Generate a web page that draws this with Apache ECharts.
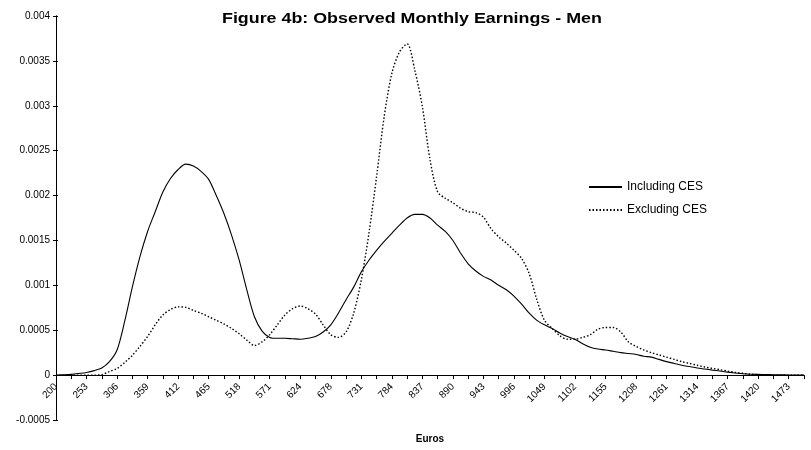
<!DOCTYPE html>
<html>
<head>
	<meta charset="utf-8">
	<script src="https://cdn.jsdelivr.net/npm/echarts@6/dist/echarts.min.js"></script>
	<style>
		html, body { margin: 0; padding: 0; background: #fff; }
		#chart { width: 811px; height: 450px; }
	</style>
</head>
<body>
	<div id="chart"></div>
	<script>
		// x axis: 200..1500 euros, one point every half tick (98 steps)
		var steps = 98;
		var euros = [];
		for (var j = 0; j <= steps; j++) {
			euros.push(200 + j * 1300 / steps);
		}
		var tickLabels = ['200','253','306','359','412','465','518','571','624','678','731','784','837',
			'890','943','996','1049','1102','1155','1208','1261','1314','1367','1420','1473'];

		var includingCES = [
			0, 0.000003, 0.000008, 0.000018, 0.00003, 0.00005, 0.00008, 0.00015, 0.00028, 0.0006,
			0.00098, 0.00132, 0.0016, 0.00182, 0.00204, 0.00219, 0.00229, 0.00235, 0.00233, 0.00227,
			0.00218, 0.002, 0.0018, 0.00156, 0.00128, 0.00095, 0.00065, 0.00049, 0.00042, 0.00041,
			0.00041, 0.000405, 0.0004, 0.00041, 0.00043, 0.00048, 0.00056, 0.00069, 0.00084, 0.00098,
			0.00115, 0.00128, 0.00139, 0.00149, 0.00158, 0.00167, 0.00175, 0.00179, 0.00179, 0.00175,
			0.00167, 0.0016, 0.0015, 0.00136, 0.00124, 0.00116, 0.0011, 0.00106, 0.001, 0.00095,
			0.00088, 0.00079, 0.00069, 0.00061, 0.00056, 0.00052, 0.00047, 0.00043, 0.0004, 0.00035,
			0.00031, 0.00029, 0.00028, 0.000265, 0.00025, 0.00024, 0.00023, 0.00021, 0.0002, 0.000175,
			0.00015, 0.00013, 0.00011, 0.000095, 0.00008, 0.000068, 0.000056, 0.000045, 0.000033, 0.000024,
			0.000015, 0.00001, 0.000008, 0.000006, 0.000004, 0.000003, 0.000002, 0.000001, 0
		];
		var excludingCES = [
			0, 0, 0, 0, 0, 0, 0.000005, 0.00004, 0.000074, 0.00014,
			0.00022, 0.00032, 0.00043, 0.00056, 0.00067, 0.00073, 0.00076, 0.000755, 0.00072, 0.00069,
			0.00065, 0.00061, 0.00057, 0.00052, 0.00046, 0.00039, 0.00033, 0.00037, 0.00045, 0.00056,
			0.00067, 0.00074, 0.00077, 0.00074, 0.00068, 0.00056, 0.00045, 0.00042, 0.00048, 0.00069,
			0.00106, 0.00158, 0.00221, 0.00288, 0.00336, 0.0036, 0.00369, 0.0034, 0.00299, 0.0024,
			0.00204, 0.00197, 0.00192, 0.00186, 0.00182, 0.00181, 0.00176, 0.00163, 0.00154, 0.00147,
			0.00139, 0.0013, 0.00113, 0.00084, 0.00061, 0.00052, 0.00044, 0.0004, 0.0004, 0.00042,
			0.00045, 0.00051, 0.00053, 0.00053, 0.00048, 0.00037, 0.00032, 0.00028, 0.00025, 0.000225,
			0.0002, 0.000175, 0.00015, 0.00013, 0.00011, 0.00009, 0.000075, 0.00006, 0.000045, 0.00003,
			0.00002, 0.00001, 0.000005, 0, 0, 0, 0, 0, 0
		];

		var font = 'Liberation Sans, Arial, sans-serif';
		var black = '#000';

		var chart = echarts.init(document.getElementById('chart'));
		chart.setOption({
			animation: false,
			graphic: [{
				type: 'text',
				x: 222, y: 11,
				scaleX: 1.19,
				style: {
					text: 'Figure 4b: Observed Monthly Earnings - Men',
					font: 'bold 15px Liberation Sans, Arial, sans-serif',
					fill: black
				}
			}],
			legend: {
				left: 588, top: 181, orient: 'vertical', padding: 0,
				itemWidth: 33, itemHeight: 10, itemGap: 11,
				itemStyle: { opacity: 0 },
				textStyle: { fontFamily: font, fontSize: 12, color: black },
				data: ['Including CES', 'Excluding CES']
			},
			grid: { left: 56, right: 7, top: 16, bottom: 30, containLabel: false, outerBoundsMode: 'none' },
			xAxis: [{
				// axis line at y = 0 with the tick marks
				type: 'category',
				data: euros,
				boundaryGap: false,
				axisLine: { onZero: true, onZeroAxisIndex: 0, lineStyle: { color: black, width: 1 } },
				axisTick: { interval: 1, length: 4, lineStyle: { color: black } },
				axisLabel: { show: false },
				splitLine: { show: false }
			}, {
				// labels + name, shifted up to the zero line
				type: 'category',
				data: euros,
				boundaryGap: false,
				position: 'bottom',
				offset: -45,
				name: 'Euros',
				nameLocation: 'middle',
				nameGap: 59,
				nameTextStyle: { fontFamily: font, fontSize: 10, fontWeight: 'bold', color: black },
				axisLine: { show: false, onZero: false },
				axisTick: { show: false },
				axisLabel: {
					interval: 3, rotate: 45, margin: 10,
					fontFamily: font, fontSize: 10, color: black,
					formatter: function (v, i) { return tickLabels[i / 4]; }
				},
				splitLine: { show: false }
			}],
			yAxis: [{
				type: 'value',
				min: -0.0005, max: 0.004, interval: 0.0005,
				axisLine: { show: true, lineStyle: { color: black, width: 1 } },
				axisTick: { show: true, length: 3, lineStyle: { color: black } },
				axisLabel: {
					margin: 6, fontFamily: font, fontSize: 10, color: black,
					formatter: function (v) { return String(parseFloat(v.toFixed(4))); }
				},
				splitLine: { show: false }
			}, {
				type: 'value',
				position: 'left',
				min: -0.0005, max: 0.004, interval: 0.0005,
				axisLine: { show: true, lineStyle: { color: black, width: 1 } },
				axisTick: { show: true, inside: true, length: 2, lineStyle: { color: black } },
				axisLabel: { show: false },
				splitLine: { show: false }
			}],
			series: [{
				name: 'Including CES',
				type: 'line',
				data: includingCES,
				symbol: 'none',
				smooth: 0.3,
				lineStyle: { color: black, width: 1.1 }
			}, {
				name: 'Excluding CES',
				type: 'line',
				data: excludingCES,
				symbol: 'none',
				smooth: 0.3,
				lineStyle: { color: black, width: 1.4, type: [1.5, 2] }
			}]
		});
	</script>
</body>
</html>
